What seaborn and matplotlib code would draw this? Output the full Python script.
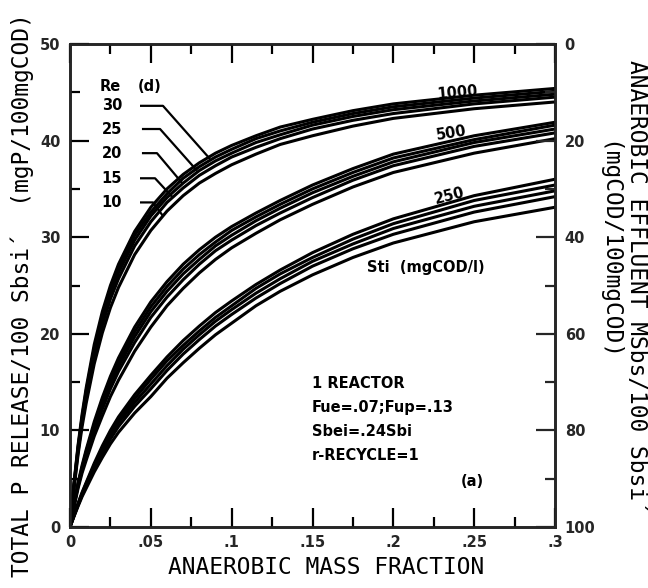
import matplotlib
matplotlib.use("Agg")
import matplotlib.pyplot as plt
import seaborn as sns
import pandas as pd

sns.set_style("ticks")
plt.rcParams["font.family"] = ["DejaVu Sans"]

# Anaerobic mass fraction (x) at which the curves are tabulated
mass_fraction = [0, 0.0025, 0.005, 0.0075, 0.01, 0.015, 0.02, 0.025, 0.03, 0.04, 0.05,
                 0.06, 0.07, 0.08, 0.09, 0.1, 0.115, 0.13, 0.15, 0.175, 0.2, 0.25, 0.3]

# Total P release (mgP/100mgCOD) for each influent COD (Sti) and sludge age Re (d)
release_sti1000 = {
    30: [0, 4.6, 8.5, 11.7, 14.4, 18.9, 22.3, 25.0, 27.2, 30.6, 33.1, 35.0, 36.5, 37.7, 38.7, 39.5, 40.5, 41.4, 42.2, 43.1, 43.8, 44.7, 45.4],
    25: [0, 4.5, 8.3, 11.4, 14.1, 18.5, 21.8, 24.5, 26.7, 30.2, 32.6, 34.5, 36.1, 37.3, 38.3, 39.1, 40.2, 41.0, 41.9, 42.8, 43.5, 44.4, 45.1],
    20: [0, 4.4, 8.1, 11.2, 13.8, 18.1, 21.4, 24.1, 26.3, 29.7, 32.2, 34.1, 35.6, 36.9, 37.9, 38.7, 39.8, 40.6, 41.6, 42.5, 43.2, 44.1, 44.8],
    15: [0, 4.2, 7.8, 10.9, 13.4, 17.6, 20.9, 23.6, 25.7, 29.1, 31.6, 33.6, 35.1, 36.4, 37.4, 38.3, 39.3, 40.2, 41.2, 42.1, 42.8, 43.8, 44.5],
    10: [0, 4.0, 7.5, 10.4, 12.8, 16.9, 20.1, 22.7, 24.8, 28.2, 30.7, 32.7, 34.3, 35.6, 36.6, 37.5, 38.6, 39.6, 40.5, 41.5, 42.3, 43.3, 44.0],
}
release_sti500 = {
    30: [0, 2.4, 4.6, 6.4, 8.0, 10.9, 13.4, 15.6, 17.5, 20.7, 23.3, 25.4, 27.2, 28.7, 30.0, 31.1, 32.5, 33.8, 35.4, 37.1, 38.6, 40.5, 41.9],
    25: [0, 2.3, 4.5, 6.2, 7.8, 10.6, 13.0, 15.2, 17.0, 20.2, 22.8, 24.9, 26.7, 28.2, 29.5, 30.7, 32.1, 33.4, 35.0, 36.7, 38.2, 40.1, 41.6],
    20: [0, 2.3, 4.4, 6.1, 7.6, 10.3, 12.6, 14.8, 16.6, 19.7, 22.3, 24.4, 26.2, 27.7, 29.1, 30.2, 31.7, 33.0, 34.6, 36.3, 37.8, 39.8, 41.2],
    15: [0, 2.2, 4.2, 5.9, 7.3, 10.0, 12.2, 14.3, 16.1, 19.1, 21.7, 23.8, 25.6, 27.2, 28.6, 29.7, 31.2, 32.5, 34.1, 35.9, 37.4, 39.4, 40.8],
    10: [0, 2.1, 4.0, 5.6, 6.9, 9.4, 11.5, 13.5, 15.2, 18.2, 20.7, 22.9, 24.7, 26.3, 27.7, 28.9, 30.4, 31.8, 33.4, 35.2, 36.7, 38.7, 40.2],
}
release_sti250 = {
    30: [0, 1.25, 2.45, 3.6, 4.6, 6.6, 8.4, 10.0, 11.4, 13.7, 15.7, 17.6, 19.3, 20.8, 22.2, 23.4, 25.1, 26.6, 28.4, 30.3, 31.9, 34.3, 36.0],
    25: [0, 1.2, 2.4, 3.5, 4.5, 6.4, 8.2, 9.7, 11.1, 13.3, 15.3, 17.2, 18.8, 20.3, 21.7, 22.9, 24.7, 26.2, 27.9, 29.8, 31.4, 33.8, 35.4],
    20: [0, 1.2, 2.3, 3.4, 4.4, 6.2, 7.9, 9.4, 10.8, 12.9, 14.8, 16.7, 18.4, 19.9, 21.3, 22.5, 24.2, 25.7, 27.5, 29.3, 30.9, 33.2, 34.8],
    15: [0, 1.15, 2.25, 3.3, 4.2, 6.0, 7.6, 9.1, 10.4, 12.5, 14.3, 16.2, 17.9, 19.4, 20.8, 22.0, 23.7, 25.2, 27.0, 28.8, 30.3, 32.6, 34.2],
    10: [0, 1.1, 2.15, 3.15, 4.0, 5.7, 7.2, 8.6, 9.8, 11.8, 13.5, 15.4, 17.0, 18.5, 19.9, 21.1, 22.9, 24.4, 26.1, 27.9, 29.4, 31.6, 33.1],
}
sti_groups = {1000: release_sti1000, 500: release_sti500, 250: release_sti250}

x_ticks = [0, 0.05, 0.1, 0.15, 0.2, 0.25, 0.3]
x_ticklabels = ["0", ".05", ".1", ".15", ".2", ".25", ".3"]
left_ticks = [0, 10, 20, 30, 40, 50]
right_ticks = [0, 20, 40, 60, 80, 100]

rows = []
for sti, curves in sti_groups.items():
    for re_d, values in curves.items():
        for xv, yv in zip(mass_fraction, values):
            rows.append({"frac": xv, "release": yv, "curve": f"{sti}-{re_d}"})
df = pd.DataFrame(rows)

fig = plt.figure(figsize=(6.48, 5.88), dpi=100)
ax = fig.add_axes([70 / 648, 61 / 588, 485 / 648, 483 / 588])

sns.lineplot(data=df, x="frac", y="release", units="curve", estimator=None,
             color="black", linewidth=2.2, sort=False, ax=ax, legend=False)

ax.set_xlim(0, 0.3)
ax.set_ylim(0, 50)
ax.set_xlabel("")
ax.set_ylabel("")
for s in ax.spines.values():
    s.set_linewidth(1.8)
    s.set_color("black")

ax.set_xticks(x_ticks)
ax.set_xticklabels(x_ticklabels)
ax.set_xticks([0.025, 0.075, 0.125, 0.175, 0.225, 0.275], minor=True)
ax.set_yticks(left_ticks)
ax.set_yticks([5, 15, 25, 35, 45], minor=True)
ax.tick_params(axis="both", which="major", direction="in", length=14, width=1.6,
               top=True, right=False, labelsize=10.5, color="black")
ax.tick_params(axis="both", which="minor", direction="in", length=7, width=1.6,
               top=True, right=False, color="black")
ax.tick_params(axis="x", pad=6)
ax.tick_params(axis="y", pad=7)
for lab in ax.get_xticklabels() + ax.get_yticklabels():
    lab.set_fontweight("bold")

# Effluent axis on the right, increasing downward
ax2 = ax.twinx()
ax2.set_ylim(100, 0)
ax2.set_yticks(right_ticks)
ax2.set_yticks([10, 30, 50, 70, 90], minor=True)
ax2.tick_params(axis="y", which="major", direction="in", length=14, width=1.6,
                labelsize=10.5, pad=7, left=False)
ax2.tick_params(axis="y", which="minor", direction="in", length=7, width=1.6, left=False)
for lab in ax2.get_yticklabels():
    lab.set_fontweight("bold")
for s in ax2.spines.values():
    s.set_linewidth(1.8)

label_font = dict(family="DejaVu Sans Mono", fontsize=16.5, color="black")
fig.text(326 / 648, 1 - 567 / 588, "ANAEROBIC MASS FRACTION",
         ha="center", va="center", **label_font)
fig.text(22 / 648, 1 - 295 / 588, "TOTAL P RELEASE/100 Sbsi´  (mgP/100mgCOD)",
         ha="center", va="center", rotation=90, **label_font)
fig.text(637 / 648, 1 - 287 / 588, "ANAEROBIC EFFLUENT MSbs/100 Sbsi´",
         ha="center", va="center", rotation=-90, **label_font)
fig.text(608 / 648, 1 - 251 / 588, "(mgCOD/100mgCOD)",
         ha="center", va="center", rotation=-90, **label_font)

bold = dict(fontweight="bold", fontsize=10.5, color="black")

# Sludge age key with leader lines to the Sti=1000 curves
ax.text(0.0247, 45.6, "Re", ha="center", va="center", **bold)
ax.text(0.0495, 45.6, "(d)", ha="center", va="center", **bold)
leaders = {
    30: ([0.0433, 0.0575, 0.0866], [43.6, 43.6, 38.1]),
    25: ([0.0445, 0.0557, 0.0785], [41.2, 41.2, 36.9]),
    20: ([0.0445, 0.0538, 0.0699], [38.7, 38.7, 35.5]),
    15: ([0.0433, 0.0526, 0.0631], [36.1, 36.1, 34.2]),
    10: ([0.0433, 0.0513, 0.0575], [33.6, 33.6, 32.2]),
}
for re_d, (lx, ly) in leaders.items():
    ax.text(0.026, ly[0], str(re_d), ha="center", va="center", **bold)
    ax.plot(lx, ly, color="black", linewidth=1.6, solid_capstyle="butt")

ax.text(0.2393, 45.0, "1000", ha="center", va="center", rotation=5, **bold)
ax.text(0.2356, 40.8, "500", ha="center", va="center", rotation=9, **bold)
ax.text(0.235, 34.3, "250", ha="center", va="center", rotation=14, **bold)
ax.text(0.1837, 26.9, "Sti  (mgCOD/l)", ha="left", va="center", **bold)

notes = ["1 REACTOR", "Fue=.07;Fup=.13", "Sbei=.24Sbi", "r-RECYCLE=1"]
for i, line in enumerate(notes):
    ax.text(0.1497, 14.9 - 2.5 * i, line, ha="left", va="center", **bold)
ax.text(0.2486, 4.66, "(a)", ha="center", va="center", **bold)

fig.savefig("out.png", dpi=100, facecolor="white")
